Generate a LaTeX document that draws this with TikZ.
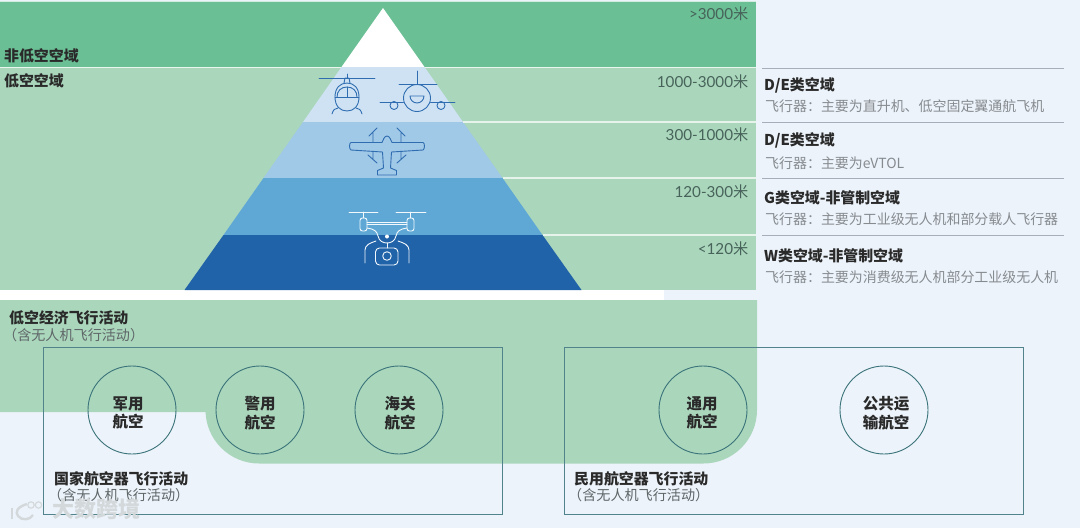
\documentclass[tikz,border=0pt]{standalone}
\usepackage{fontspec}
\setmainfont{Noto Sans CJK SC}
\newfontfamily\numfont{Lato}
\definecolor{bgc}{HTML}{ECF3FA}
\definecolor{dkg}{HTML}{6ABF95}
\definecolor{ltg}{HTML}{AAD6BC}
\definecolor{pa}{HTML}{CFE2F4}
\definecolor{pb}{HTML}{A0C8E7}
\definecolor{pc}{HTML}{5FA8D6}
\definecolor{pd}{HTML}{2163A8}
\definecolor{ink}{HTML}{2A2A2A}
\definecolor{sub}{HTML}{868B90}
\definecolor{subd}{HTML}{5F6668}
\definecolor{alt}{HTML}{47635A}
\definecolor{boxl}{HTML}{50838C}
\definecolor{circl}{HTML}{3A7379}
\definecolor{rulec}{HTML}{A9ADB9}
\definecolor{icn}{HTML}{2F6DB0}
\definecolor{wmk}{HTML}{D3D8DB}
\tikzset{
  x=1pt,y=-1pt,
  ttl/.style={anchor=west,inner sep=0pt,text=ink,font=\fontsize{14.9}{17}\selectfont\bfseries},
  subtxt/.style={anchor=west,inner sep=0pt,text=sub,font=\fontsize{13.95}{16}\selectfont},
  paren/.style={anchor=west,inner sep=0pt,text=subd,font=\fontsize{14.1}{16}\selectfont},
  altt/.style={anchor=east,inner sep=0pt,text=alt,font=\fontsize{15.2}{17}\selectfont},
  rulel/.style={draw=rulec,line width=1.1pt},
  whl/.style={draw=white!70!ltg,line width=1.4pt},
  actbox/.style={draw=boxl,line width=1pt,fill=none},
  actc/.style={circle,draw=circl,line width=.9pt,minimum size=88pt,inner sep=0pt},
  actt/.style={align=center,inner sep=0pt,text=ink,font=\fontsize{15.5}{18.5}\selectfont\bfseries},
  ico/.style={draw=icn,line width=.9pt,line cap=round,line join=round},
  icow/.style={draw=white!92!pc,line width=.9pt,line cap=round,line join=round},
}
\begin{document}
\begin{tikzpicture}
\useasboundingbox (0,0) rectangle (1080,528);
\fill[bgc] (0,0) rectangle (1080,528);
% bands
\fill[dkg] (0,2) rectangle (756,66.5);
\fill[ltg] (0,68) rectangle (756,290);
\fill[white] (0,290) rectangle (664,300);
\draw[draw=white!75!ltg,line width=1.4pt] (0,67.2) -- (756,67.2);
\draw[draw=white!70!dkg,line width=1pt] (0,1) -- (756,1);
% lower green
\fill[ltg] (0,300) -- (757,300) -- (757,410) arc[start angle=0,end angle=90,radius=53.5] -- (259,463.5)
  arc[start angle=90,end angle=180,radius=53.5] -- (205.5,412) -- (0,412) -- cycle;
% pyramid
\fill[white] (383,8) -- (424.5,67) -- (341.5,67) -- cycle;
\fill[pa] (341.5,67) -- (424.5,67) -- (463,122) -- (303,122) -- cycle;
\fill[pb] (303,122) -- (463,122) -- (502.5,178) -- (263.5,178) -- cycle;
\fill[pc] (263.5,178) -- (502.5,178) -- (542.5,235) -- (223.5,235) -- cycle;
\fill[pd] (223.5,235) -- (542.5,235) -- (581.5,290) -- (184.5,290) -- cycle;
% white separators to the right of pyramid
\draw[whl] (463,122) -- (756,122);
\draw[whl] (502.5,178) -- (756,178);
\draw[whl] (542.5,235) -- (756,235);
% helicopter
\draw[ico] (319,78) -- (375,78);
\draw[ico] (347,74) -- (347,78);
\draw[ico] (344,83) -- (345,78) -- (349,78) -- (350,83);
\draw[ico] (335,97) .. controls (335,88) and (340,83) .. (347,83) .. controls (354,83) and (359,88) .. (359,97)
  .. controls (359,106) and (354,111) .. (347,111) .. controls (340,111) and (335,106) .. (335,97) -- cycle;
\draw[ico] (337,97) .. controls (337,91) and (341,87) .. (347,87) .. controls (353,87) and (357,91) .. (357,97);
\draw[ico] (335,97) -- (359,97);
\draw[ico] (347,87) -- (347,97);
\draw[ico] (332,114) .. controls (333,110) and (335,108) .. (338,108);
\draw[ico] (362,114) .. controls (361,110) and (359,108) .. (356,108);
% plane
\draw[ico] (417,71) -- (417,84);
\draw[ico] (399,84) -- (437,84);
\draw[ico] (417,98) circle[radius=13.5];
\draw[ico] (410,96) arc[start angle=180,end angle=0,radius=7] -- cycle;
\draw[ico] (380,102) -- (403.5,102);
\draw[ico] (430.5,102) -- (455,102);
\draw[ico] (394,105.5) circle[radius=4];
\draw[ico] (441,105.5) circle[radius=4];
% eVTOL
\draw[ico] (351,142.5) -- (382,142.5) .. controls (383,140) and (384.5,136) .. (387,136)
  .. controls (389.5,136) and (391,140) .. (392,142.5) -- (423,142.5)
  .. controls (425,143) and (425,149) .. (423,150) -- (391.5,152) -- (390.5,168) -- (396.5,170.5) -- (396.5,175) -- (377.5,175) -- (377.5,170.5) -- (383.5,168) -- (382.5,152)
  -- (351,150) .. controls (349,149) and (349,143) .. (351,142.5) -- cycle;
\draw[ico] (377,128) -- (369,136) (373,133) -- (373,142.5);
\draw[ico] (397,128) -- (405,136) (401,133) -- (401,142.5);
\draw[ico] (368,155) -- (377,163) (373,151.5) -- (373,159);
\draw[ico] (406,155) -- (397,163) (401,151.5) -- (401,159);
% drone
\draw[icow] (349,212) -- (378,212);
\draw[icow] (396,212) -- (426,212);
\draw[icow] (363.5,212) -- (363.5,218);
\draw[icow] (410.5,212) -- (410.5,218);
\draw[icow,rounded corners=2.5pt] (360,218) rectangle (367,231);
\draw[icow,rounded corners=2.5pt] (407,218) rectangle (414,231);
\draw[icow] (367,222) -- (407,222) (367,224.5) -- (407,224.5);
\draw[icow] (367,228) .. controls (374,229) and (377,231) .. (378,236) .. controls (379,241) and (383,243) .. (387,243)
  .. controls (391,243) and (395,241) .. (396,236) .. controls (397,231) and (400,229) .. (407,228);
\fill[white] (387,236.5) circle[radius=2];
\draw[icow] (365,263) -- (365,250) .. controls (365,245) and (370,243) .. (376,241);
\draw[icow] (409,263) -- (409,250) .. controls (409,245) and (404,243) .. (398,241);
\draw[icow] (387,243) -- (387,248);
\draw[icow,rounded corners=4pt] (375.5,248) rectangle (398,265);
\draw[icow] (387,256) circle[radius=4.3];
% left labels
\node[ttl] (nonlow) at (4,55.5) {非低空空域};
\node[ttl] (low) at (4,81) {低空空域};
% altitudes
\node[altt] (a1) at (748.5,14) {{\numfont >3000}米};
\node[altt] (a2) at (748.5,82) {{\numfont 1000-3000}米};
\node[altt] (a3) at (748.5,135) {{\numfont 300-1000}米};
\node[altt] (a4) at (748.5,192) {{\numfont 120-300}米};
\node[altt] (a5) at (748.5,249) {{\numfont <120}米};
% right column
\draw[rulel] (762,68.5) -- (1064,68.5);
\draw[rulel] (762,122.5) -- (1064,122.5);
\draw[rulel] (762,178.5) -- (1064,178.5);
\draw[rulel] (762,235.5) -- (1064,235.5);
\node[ttl] (r1) at (764,85.5) {D/E类空域};
\node[subtxt] (s1) at (765,106) {飞行器：主要为直升机、低空固定翼通航飞机};
\node[ttl] (r2) at (764,140.5) {D/E类空域};
\node[subtxt] (s2) at (765,163) {飞行器：主要为eVTOL};
\node[ttl] (r3) at (764,197.5) {G类空域-非管制空域};
\node[subtxt] (s3) at (765,219) {飞行器：主要为工业级无人机和部分载人飞行器};
\node[ttl] (r4) at (764,255.5) {W类空域-非管制空域};
\node[subtxt] (s4) at (765,277) {飞行器：主要为消费级无人机部分工业级无人机};
% activity
\node[ttl] (la) at (9,317.5) {低空经济飞行活动};
\node[paren] (lb) at (3,335) {（含无人机飞行活动）};
\draw[actbox] (43,347) rectangle (502,514);
\draw[actbox] (564,347) rectangle (1023,514);
\node[actc] (c1) at (132,410) {};
\node[actc] (c2) at (260,410) {};
\node[actc] (c3) at (399,410) {};
\node[actc] (c4) at (703,410) {};
\node[actc] (c5) at (884,410) {};
\node[actt] (t1) at (128,413) {军用\\航空};
\node[actt] (t2) at (260,413) {警用\\航空};
\node[actt] (t3) at (400,413) {海关\\航空};
\node[actt] (t4) at (702,413) {通用\\航空};
\node[actt] (t5) at (886,413) {公共运\\输航空};
\node[ttl] (g1) at (54,478.5) {国家航空器飞行活动};
\node[paren] (g2) at (48,495) {（含无人机飞行活动）};
\node[ttl] (m1) at (574,478.5) {民用航空器飞行活动};
\node[paren] (m2) at (568,495) {（含无人机飞行活动）};
% watermark
\draw[wmk,line width=2.4pt] (12,508) -- (12,519);
\draw[wmk,line width=2.4pt] (27,504) .. controls (17,507) and (15,512) .. (18,516) .. controls (22,521) and (30,520) .. (33,515);
\draw[wmk,line width=1.1pt] (31,505) circle[radius=3.2] (38.5,505) circle[radius=3.2];
\node[inner sep=0pt,anchor=west,text=wmk,font=\fontsize{22}{24}\selectfont\bfseries] (wm) at (52,509) {大数跨境};
\end{tikzpicture}
\end{document}
